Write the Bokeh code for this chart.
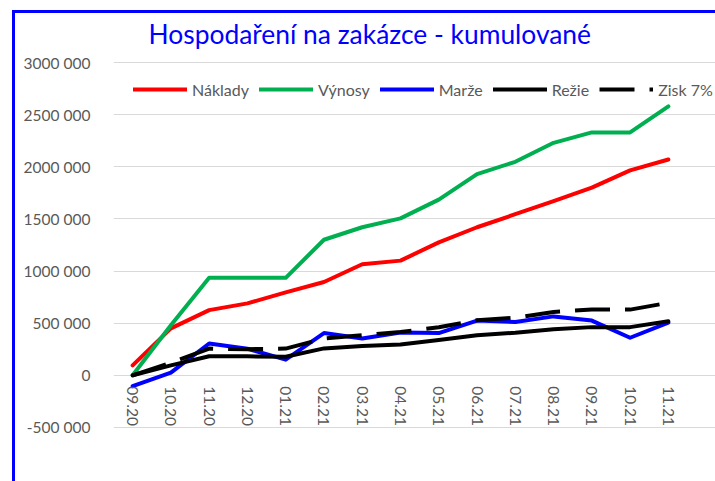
from bokeh.plotting import figure
from bokeh.models import Range1d, FixedTicker, Legend, LegendItem
from bokeh.embed import file_html
from bokeh.resources import INLINE

months = ["09.20", "10.20", "11.20", "12.20", "01.21", "02.21", "03.21", "04.21",
          "05.21", "06.21", "07.21", "08.21", "09.21", "10.21", "11.21"]
naklady = [95000, 450000, 625000, 690000, 795000, 895000, 1065000, 1100000,
           1275000, 1420000, 1545000, 1670000, 1800000, 1965000, 2070000]
vynosy = [0, 480000, 935000, 935000, 935000, 1300000, 1420000, 1505000,
          1685000, 1930000, 2048000, 2230000, 2330000, 2330000, 2580000]
marze = [-105000, 25000, 305000, 255000, 150000, 405000, 352000, 410000,
         405000, 525000, 512000, 565000, 525000, 360000, 505000]
rezie = [0, 95000, 182000, 182000, 178000, 258000, 280000, 295000,
         338000, 385000, 408000, 442000, 462000, 462000, 518000]
zisk = [0, 120000, 256000, 250000, 256000, 352000, 384000, 416000,
        460000, 528000, 552000, 608000, 630000, 630000, 695000]

y_ticks = [-500000, 0, 500000, 1000000, 1500000, 2000000, 2500000, 3000000]
y_tick_labels = ["-500 000", "0", "500 000", "1000 000", "1500 000", "2000 000",
                 "2500 000", "3000 000"]

title_text = "Hospodaření na zakázce - kumulované"
FONT = "Lato"
GRAY = "#595959"

n = len(months)
x = list(range(n))
# the frame runs on to the right edge so the legend is not clipped;
# grid lines stay on the category span
x_end = -0.5 + n * 602 / 574

p = figure(width=715, height=481, output_backend="svg", toolbar_location=None,
           x_range=Range1d(-0.5, x_end),
           y_range=Range1d(-520000, 3010000),
           min_border_left=113, min_border_right=0, min_border_top=61,
           min_border_bottom=52)
p.border_fill_color = None
p.background_fill_color = None
p.outline_line_color = None
p.styles = {"box-shadow": "inset 12px 10px 0 0 white, inset 15px 13px 0 0 #0000ff"}

p.title.text = title_text
p.title.text_color = "#0000ff"
p.title.text_font = FONT
p.title.text_font_size = "26.4px"
p.title.text_font_style = "normal"
p.title.align = "left"
p.title.offset = 35
p.title.standoff = 24

# y axis
p.yaxis.ticker = FixedTicker(ticks=y_ticks)
p.yaxis.major_label_overrides = {float(t): l for t, l in zip(y_ticks, y_tick_labels)}
p.yaxis.axis_line_color = None
p.yaxis.major_tick_line_color = None
p.yaxis.minor_tick_line_color = None
p.yaxis.major_label_standoff = 17
p.yaxis.major_label_text_font = FONT
p.yaxis.major_label_text_font_size = "15.5px"
p.yaxis.major_label_text_color = GRAY

# x axis crossing at zero, month labels
p.xaxis.ticker = FixedTicker(ticks=x)
p.xaxis.major_label_overrides = {float(i): m for i, m in zip(x, months)}
p.xaxis.fixed_location = 0
p.xaxis.axis_line_color = None
p.xaxis.major_tick_line_color = None
p.xaxis.minor_tick_line_color = None
p.xaxis.major_label_orientation = "vertical"
p.xaxis.major_label_standoff = 5
p.xaxis.major_label_text_font = FONT
p.xaxis.major_label_text_font_size = "15.5px"
p.xaxis.major_label_text_color = GRAY

p.xgrid.grid_line_color = None
p.ygrid.grid_line_color = "#d9d9d9"
p.ygrid.grid_line_width = 1.2
p.ygrid.ticker = FixedTicker(ticks=y_ticks)
p.ygrid.bounds = (-0.5, n - 0.5)

W = 4
r1 = p.line(x, naklady, line_color="#ff0000", line_width=W, line_join="round", line_cap="round")
r2 = p.line(x, vynosy, line_color="#00b050", line_width=W, line_join="round", line_cap="round")
r3 = p.line(x, marze, line_color="#0000ff", line_width=W, line_join="round", line_cap="round")
r4 = p.line(x, rezie, line_color="#000000", line_width=W, line_join="round", line_cap="round")
r5 = p.line(x, zisk, line_color="#000000", line_width=W, line_dash="35 15", line_join="round")

legend = Legend(items=[LegendItem(label="Náklady", renderers=[r1]),
                       LegendItem(label="Výnosy", renderers=[r2]),
                       LegendItem(label="Marže", renderers=[r3]),
                       LegendItem(label="Režie", renderers=[r4]),
                       LegendItem(label="Zisk 7%", renderers=[r5])],
                orientation="horizontal", location=(20, 330),
                glyph_width=54, glyph_height=20, label_standoff=5, spacing=10,
                padding=0, margin=0, border_line_color=None,
                background_fill_alpha=0,
                label_text_font=FONT, label_text_font_size="16px",
                label_text_color=GRAY)
p.add_layout(legend, "center")

open("out.html", "w").write(file_html(p, INLINE))
